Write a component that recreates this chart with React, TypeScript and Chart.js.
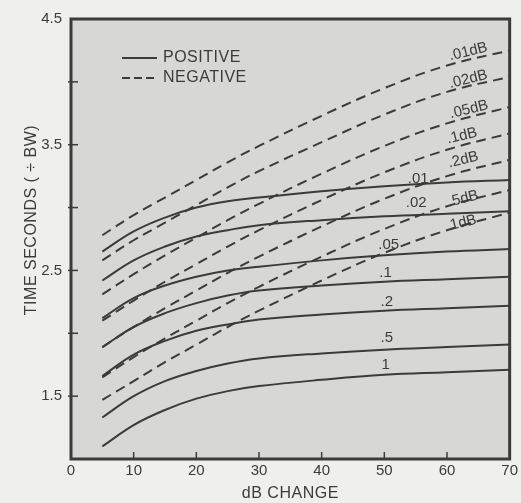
import React, { useEffect, useRef } from "react";
import { Chart, registerables } from "chart.js";

Chart.register(...registerables);

// ---- data ----
const dbChange = [5, 10, 15, 20, 25, 30, 40, 50, 60, 70];

// positive (solid) curves
const pos001 = [2.65, 2.81, 2.92, 3.0, 3.05, 3.08, 3.13, 3.17, 3.2, 3.22];
const pos002 = [2.42, 2.58, 2.69, 2.77, 2.82, 2.86, 2.9, 2.93, 2.95, 2.97];
const pos005 = [2.12, 2.28, 2.38, 2.45, 2.5, 2.53, 2.58, 2.62, 2.65, 2.67];
const pos01 = [1.89, 2.05, 2.16, 2.24, 2.3, 2.34, 2.38, 2.41, 2.43, 2.45];
const pos02 = [1.66, 1.83, 1.94, 2.02, 2.07, 2.11, 2.15, 2.18, 2.2, 2.22];
const pos05 = [1.33, 1.5, 1.62, 1.7, 1.76, 1.8, 1.84, 1.87, 1.89, 1.91];
const pos1 = [1.1, 1.27, 1.39, 1.48, 1.54, 1.58, 1.63, 1.67, 1.69, 1.71];

// negative (dashed) curves
const neg001 = [2.78, 2.94, 3.08, 3.22, 3.36, 3.49, 3.73, 3.95, 4.13, 4.25];
const neg002 = [2.58, 2.74, 2.88, 3.02, 3.16, 3.29, 3.52, 3.74, 3.92, 4.04];
const neg005 = [2.31, 2.47, 2.62, 2.76, 2.9, 3.03, 3.27, 3.49, 3.67, 3.8];
const neg01 = [2.1, 2.26, 2.41, 2.55, 2.69, 2.82, 3.06, 3.28, 3.46, 3.59];
const neg02 = [1.89, 2.05, 2.2, 2.34, 2.48, 2.61, 2.85, 3.07, 3.25, 3.38];
const neg05 = [1.65, 1.81, 1.96, 2.1, 2.24, 2.37, 2.61, 2.83, 3.01, 3.14];
const neg1 = [1.47, 1.62, 1.77, 1.91, 2.05, 2.18, 2.42, 2.64, 2.82, 2.96];

const positiveNames = [".01", ".02", ".05", ".1", ".2", ".5", "1"];
const negativeNames = [".01dB", ".02dB", ".05dB", ".1dB", ".2dB", ".5dB", "1dB"];
const positiveValues = [pos001, pos002, pos005, pos01, pos02, pos05, pos1];
const negativeValues = [neg001, neg002, neg005, neg01, neg02, neg05, neg1];

// curve tags (data coordinates)
const positiveTagX = [55.4, 55.1, 50.7, 50.2, 50.4, 50.4, 50.2];
const positiveTagY = [3.23, 3.04, 2.7, 2.48, 2.25, 1.96, 1.75];
const negativeTagX = [63.4, 63.4, 63.5, 62.4, 62.6, 62.6, 62.6];
const negativeTagY = [4.24, 4.02, 3.78, 3.57, 3.38, 3.07, 2.88];

const yLabelled = [1.5, 2.5, 3.5, 4.5];

const INK = "#3b3b3b";
const FONT = '"Liberation Sans", Arial, sans-serif';

const decor = {
  id: "decor",
  beforeDatasetsDraw(chart: any) {
    const { ctx, chartArea: a } = chart;
    ctx.save();
    ctx.fillStyle = "#d7d7d5";
    ctx.fillRect(a.left, a.top, a.right - a.left, a.bottom - a.top);
    ctx.restore();
  },
  afterDatasetsDraw(chart: any) {
    const { ctx, chartArea: a, scales } = chart;
    const xs = scales.x;
    const ys = scales.y;
    ctx.save();
    // frame
    ctx.strokeStyle = INK;
    ctx.lineWidth = 3;
    ctx.strokeRect(a.left, a.top, a.right - a.left, a.bottom - a.top);
    // inward ticks
    ctx.lineWidth = 1.5;
    for (let v = 10; v < 70; v += 10) {
      const px = xs.getPixelForValue(v);
      ctx.beginPath();
      ctx.moveTo(px, a.bottom);
      ctx.lineTo(px, a.bottom - 7);
      ctx.stroke();
    }
    for (let v = 1.5; v < 4.5; v += 0.5) {
      const py = ys.getPixelForValue(v);
      ctx.beginPath();
      ctx.moveTo(a.left - 3, py);
      ctx.lineTo(a.left + 7, py);
      ctx.stroke();
    }
    // tags
    ctx.fillStyle = INK;
    ctx.font = `15px ${FONT}`;
    ctx.textAlign = "center";
    ctx.textBaseline = "middle";
    positiveNames.forEach((t, i) => {
      ctx.fillText(t, xs.getPixelForValue(positiveTagX[i]), ys.getPixelForValue(positiveTagY[i]));
    });
    negativeNames.forEach((t, i) => {
      ctx.save();
      ctx.translate(xs.getPixelForValue(negativeTagX[i]), ys.getPixelForValue(negativeTagY[i]));
      ctx.rotate(-0.24);
      ctx.fillText(t, 0, 0);
      ctx.restore();
    });
    // legend
    const lx = a.left + 51;
    const ly1 = a.top + 39;
    const ly2 = a.top + 59;
    ctx.lineWidth = 2;
    ctx.beginPath();
    ctx.moveTo(lx, ly1);
    ctx.lineTo(lx + 35, ly1);
    ctx.stroke();
    ctx.setLineDash([8, 4]);
    ctx.beginPath();
    ctx.moveTo(lx, ly2);
    ctx.lineTo(lx + 35, ly2);
    ctx.stroke();
    ctx.setLineDash([]);
    ctx.font = `16px ${FONT}`;
    ctx.textAlign = "left";
    (ctx as any).letterSpacing = "0.5px";
    ctx.fillText("POSITIVE", lx + 41, ly1);
    ctx.fillText("NEGATIVE", lx + 41, ly2);
    // axis titles
    ctx.textAlign = "center";
    ctx.fillText("dB CHANGE", (a.left + a.right) / 2, 494);
    ctx.translate(32, 220);
    ctx.rotate(-Math.PI / 2);
    ctx.fillText("TIME SECONDS ( \u00F7 BW)", 0, 0);
    ctx.restore();
  },
};

export default function App() {
  const ref = useRef<HTMLCanvasElement | null>(null);
  useEffect(() => {
    if (!ref.current) return;
    const datasets: any[] = [];
    positiveValues.forEach((vals, i) => {
      datasets.push({
        label: positiveNames[i],
        data: dbChange.map((x, j) => ({ x, y: vals[j] })),
        borderColor: INK,
        borderWidth: 2,
        pointRadius: 0,
        tension: 0.4,
        fill: false,
      });
    });
    negativeValues.forEach((vals, i) => {
      datasets.push({
        label: negativeNames[i],
        data: dbChange.map((x, j) => ({ x, y: vals[j] })),
        borderColor: INK,
        borderWidth: 2,
        borderDash: [10, 6],
        pointRadius: 0,
        tension: 0.4,
        fill: false,
      });
    });
    const chart = new Chart(ref.current, {
      type: "line",
      data: { datasets },
      options: {
        responsive: false,
        animation: false,
        layout: { padding: { left: 0, right: 9, top: 19, bottom: 0 } },
        plugins: { legend: { display: false }, tooltip: { enabled: false } },
        scales: {
          x: {
            type: "linear",
            min: 0,
            max: 70,
            grid: { display: false, drawTicks: false },
            border: { display: false },
            ticks: { stepSize: 10, padding: 3, color: INK, font: { size: 15, family: FONT } },
            afterFit: (s: any) => {
              s.height = 44;
            },
          },
          y: {
            type: "linear",
            min: 1,
            max: 4.5,
            grid: { display: false, drawTicks: false },
            border: { display: false },
            ticks: {
              stepSize: 0.5,
              padding: 9,
              color: INK,
              font: { size: 15, family: FONT },
              callback: (v: any) =>
                yLabelled.some((l) => Math.abs(l - Number(v)) < 1e-6) ? Number(v).toFixed(1) : "",
            },
            afterFit: (s: any) => {
              s.width = 71;
            },
          },
        },
      },
      plugins: [decor],
    });
    return () => chart.destroy();
  }, []);
  return (
    <div style={{ position: "fixed", left: 0, top: 0, width: 521, height: 503, background: "#efefed" }}>
      <canvas ref={ref} width={521} height={503} style={{ display: "block" }} />
    </div>
  );
}
